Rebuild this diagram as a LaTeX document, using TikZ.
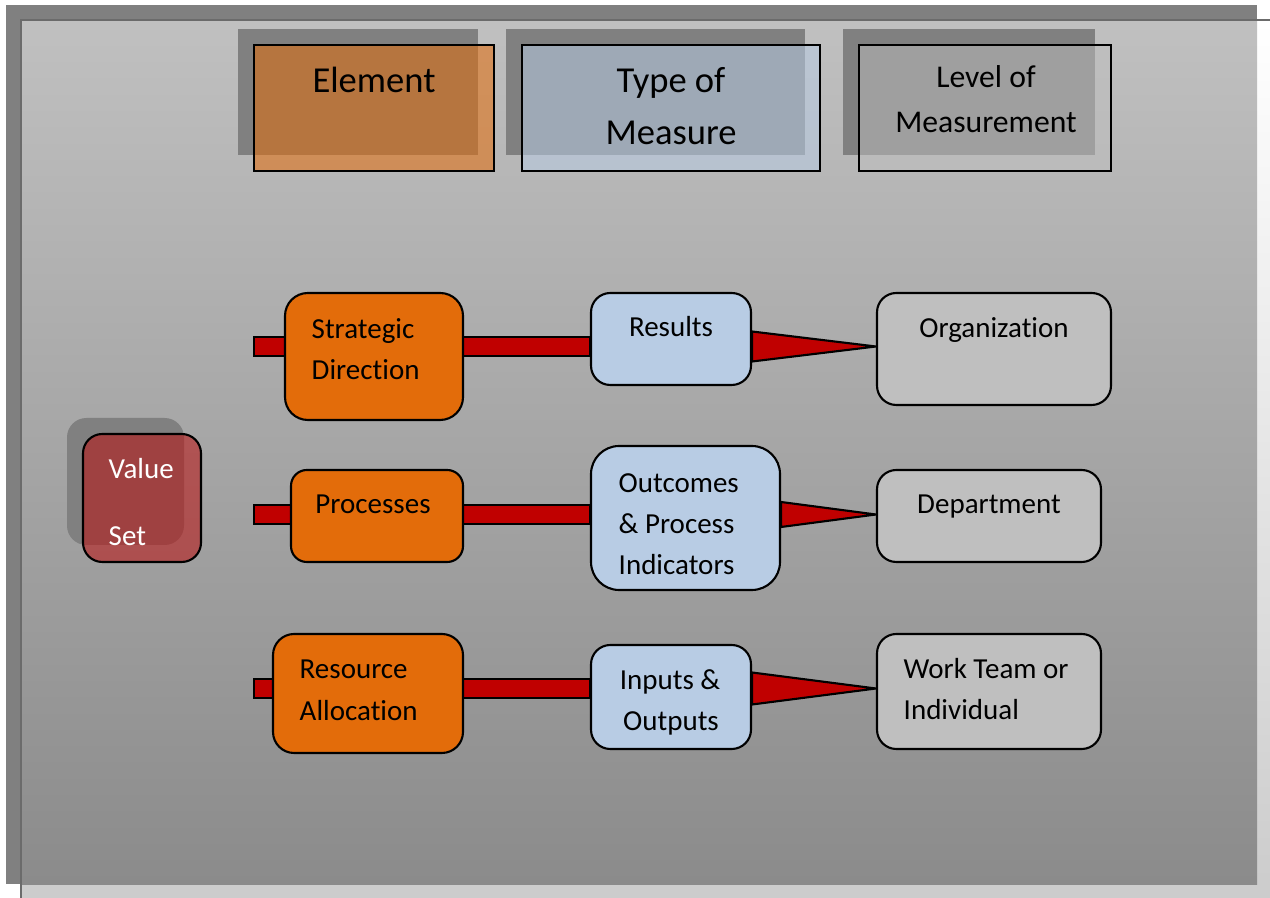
\documentclass[tikz,border=0pt]{standalone}
\usepackage{fontspec}
\setmainfont{Carlito}[Ligatures=NoCommon]
\usetikzlibrary{fit,calc}
\pgfdeclarelayer{back}
\pgfdeclarelayer{mid}
\pgfsetlayers{back,mid,main}
\definecolor{frameGray}{HTML}{808080}
\definecolor{panelTop}{HTML}{C0C0C0}
\definecolor{panelBot}{HTML}{8B8B8B}
\definecolor{elemOrange}{HTML}{E36C0A}
\definecolor{measBlue}{HTML}{B8CCE4}
\definecolor{levelGray}{HTML}{BFBFBF}
\definecolor{barRed}{HTML}{C00000}
\definecolor{valueRed}{HTML}{B90F0F}
\tikzset{
  x=0.01cm, y=-0.01cm,
  box/.style={draw=black, line width=0.6pt, inner sep=0pt},
  stepbox/.style={box, rounded corners=5.5pt},
  shadowbox/.style={fill=frameGray, inner sep=0pt},
  bodytext/.style={inner sep=0pt, yshift=-0.5pt, font=\fontsize{8.25}{10}\selectfont},
  headtext/.style={inner sep=0pt, yshift=-0.5pt, font=\fontsize{10.4}{12}\selectfont},
  leveltext/.style={inner sep=0pt, yshift=-0.5pt, font=\fontsize{9}{11}\selectfont},
  bar/.style={fill=barRed, draw=black, line width=0.6pt},
}
\begin{document}
\begin{tikzpicture}
\useasboundingbox (0,0) rectangle (1270,898);

% sheet, frame and shaded panel
\begin{pgfonlayer}{back}
\shade[top color=white, bottom color=black!20] (21,20) rectangle (1270,898);
\fill[frameGray] (6,5) rectangle (1257,884);
\shade[top color=panelTop, bottom color=panelBot] (22,21) rectangle (1257,884);
\draw[black!58, line width=0.5pt] (21,898) -- (21,20) -- (1270,20);
\end{pgfonlayer}

% column headings
\node[shadowbox, fit={(238,29)(478,155)}] (elemsh) {};
\node[box, fill=elemOrange, fill opacity=0.55, fit={(254,45)(494,171)}] (elem) {};
\node[headtext, anchor=base] (elemt) at (374,91) {Element};

\node[shadowbox, fit={(506,29)(805,155)}] (typesh) {};
\node[box, fill=measBlue, fill opacity=0.55, fit={(522,45)(820,171)}] (type) {};
\node[headtext, anchor=base] (typet1) at (671,91) {Type of};
\node[headtext, anchor=base] (typet2) at (671,143) {Measure};

\node[shadowbox, fit={(843,29)(1095,155)}] (levelsh) {};
\node[box, fill=levelGray, fill opacity=0.5, fit={(859,45)(1111,171)}] (level) {};
\node[leveltext, anchor=base] (levelt1) at (986,86) {Level of};
\node[leveltext, anchor=base] (levelt2) at (986,131) {Measurement};

% value set
\node[shadowbox, rounded corners=5.5pt, fit={(67,418)(184,545)}] (valsh) {};
\node[stepbox, fill=valueRed, fill opacity=0.55, fit={(83,434)(201,562)}] (val) {};
\node[bodytext, text=white, anchor=base west] (valt1) at (108,477) {Value};
\node[bodytext, text=white, anchor=base west] (valt2) at (108,544) {Set};

% row 1
\coordinate (s1) at (254,346.5);
\node[stepbox, fill=elemOrange, rounded corners=6.5pt, fit={(285,293)(463,420)}] (sd) {};
\node[bodytext, anchor=base west] (sdt1) at (311,337) {Strategic};
\node[bodytext, anchor=base west] (sdt2) at (311,378) {Direction};
\node[stepbox, fill=measBlue, fit={(591,293)(751,385)}] (res) {};
\node[bodytext, anchor=base] (rest) at (671,335) {Results};
\node[stepbox, fill=levelGray, fit={(877,293)(1111,405)}] (org) {};
\node[bodytext, anchor=base] (orgt) at (994,336) {Organization};

% row 2
\coordinate (s2) at (254,514.5);
\node[stepbox, fill=elemOrange, rounded corners=4.5pt, fit={(291,470)(463,562)}] (proc) {};
\node[bodytext, anchor=base] (proct) at (373,512) {Processes};
\node[stepbox, fill=measBlue, rounded corners=8pt, fit={(591,446)(780,590)}] (outc) {};
\node[bodytext, anchor=base west] (outct1) at (618,491) {Outcomes};
\node[bodytext, anchor=base west] (outct2) at (618,532) {\& Process};
\node[bodytext, anchor=base west] (outct3) at (618,573) {Indicators};
\node[stepbox, fill=levelGray, fit={(877,470)(1101,562)}] (dept) {};
\node[bodytext, anchor=base] (deptt) at (989,512) {Department};

% row 3
\coordinate (s3) at (254,688.5);
\node[stepbox, fill=elemOrange, rounded corners=6pt, fit={(273,634)(463,753)}] (ra) {};
\node[bodytext, anchor=base west] (rat1) at (299,677) {Resource};
\node[bodytext, anchor=base west] (rat2) at (299,719) {Allocation};
\node[stepbox, fill=measBlue, fit={(591,645)(751,749)}] (io) {};
\node[bodytext, anchor=base] (iot1) at (670,688) {Inputs \&};
\node[bodytext, anchor=base] (iot2) at (671,729) {Outputs};
\node[stepbox, fill=levelGray, fit={(877,634)(1101,749)}] (wt) {};
\node[bodytext, anchor=base west] (wtt1) at (903,677) {Work Team or};
\node[bodytext, anchor=base west] (wtt2) at (903,718) {Individual};

% connectors: bars into the measure boxes, wedges into the levels
\begin{pgfonlayer}{mid}
\path[bar] ($(s1)+(0,-9.5)$) rectangle ($(s1 -| res.west)+(0,9.5)$);
\path[bar] ($(res.east |- s1)+(0,-15)$) -- (org.west |- s1) -- ($(res.east |- s1)+(0,15)$) -- cycle;
\path[bar] ($(s2)+(0,-9.5)$) rectangle ($(s2 -| outc.west)+(0,9.5)$);
\path[bar] ($(outc.east |- s2)+(0,-12.5)$) -- (dept.west |- s2) -- ($(outc.east |- s2)+(0,12.5)$) -- cycle;
\path[bar] ($(s3)+(0,-9.5)$) rectangle ($(s3 -| io.west)+(0,9.5)$);
\path[bar] ($(io.east |- s3)+(0,-16)$) -- (wt.west |- s3) -- ($(io.east |- s3)+(0,16)$) -- cycle;
\end{pgfonlayer}
\end{tikzpicture}
\end{document}
